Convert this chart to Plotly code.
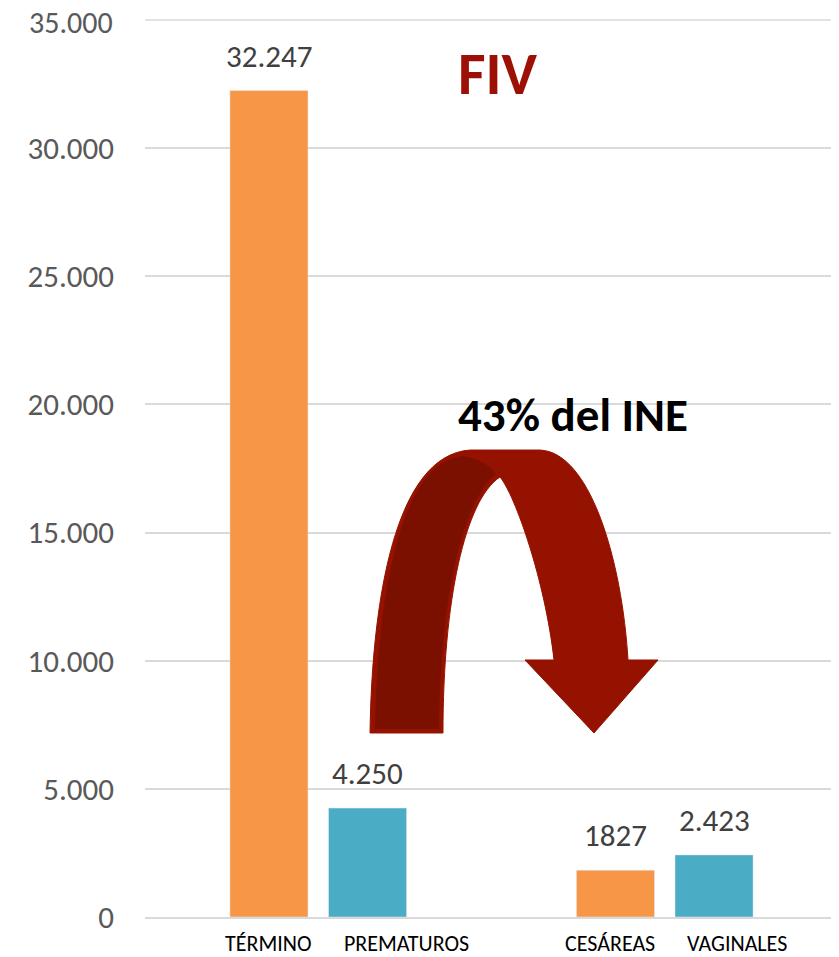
import plotly.graph_objects as go

# datos
grupos = ['Nacimientos', 'Partos']
etiquetas = ['TÉRMINO', 'PREMATUROS', 'CESÁREAS', 'VAGINALES']
serie_naranja = [32247, 1827]       # TÉRMINO, CESÁREAS
serie_azul = [4250, 2423]           # PREMATUROS, VAGINALES
texto_naranja = ['32.247', '1827']
texto_azul = ['4.250', '2.423']
ticks_y = [0, 5000, 10000, 15000, 20000, 25000, 30000, 35000]

FUENTE = 'Carlito, Calibri, Lato, sans-serif'
OFF = 8                      # margen del body de la página
W, H = 839 - OFF, 957 - OFF
L, R, T, B = 145 - OFF, 1, 19 - OFF, 40


def px(x, y):
    """pixel de la página -> coordenadas paper"""
    x, y = x - OFF, y - OFF
    return (x - L) / (W - L - R), (H - B - y) / (H - T - B)


def ruta(cmds):
    partes = []
    for c in cmds:
        op, pts = c[0], c[1:]
        s = op
        for (x, y) in pts:
            a, b = px(x, y)
            s += f' {a:.4f},{b:.4f}'
        partes.append(s)
    return ' '.join(partes) + ' Z'


fig = go.Figure()
fig.add_trace(go.Bar(x=grupos, y=serie_naranja, marker_color='#F79646'))
fig.add_trace(go.Bar(x=grupos, y=serie_azul, marker_color='#4BACC6'))

# etiquetas de datos
for serie, textos, dx in [(serie_naranja, texto_naranja, -49.25), (serie_azul, texto_azul, 49.25)]:
    for g, v, t in zip(grupos, serie, textos):
        fig.add_annotation(x=g, y=v, xref='x', yref='y', text=t, showarrow=False,
                           xshift=dx, yshift=14, yanchor='bottom',
                           font=dict(size=31, color='#404040', family=FUENTE))

# línea y etiqueta superiores del eje y (plotly no las dibuja en el borde)
tope = ticks_y[-1]
fig.add_shape(type='line', xref='paper', yref='y', x0=0, x1=1, y0=tope, y1=tope,
              line=dict(color='#d9d9d9', width=1.5), layer='below')
fig.add_annotation(x=0, y=tope, xref='paper', yref='y', text=f'{tope:,}'.replace(',', '.'),
                   showarrow=False, xanchor='right', yanchor='middle', xshift=-30, yshift=-2,
                   font=dict(size=30, color='#595959', family=FUENTE))

# flecha curva
flecha = ruta([
    ('M', (370, 733)),
    ('C', (372, 600), (395, 455), (470, 450)),
    ('L', (540, 450)),
    ('C', (590, 452), (622, 560), (628, 660)),
    ('L', (658, 660)),
    ('L', (594, 733)),
    ('L', (525, 660)),
    ('L', (554, 660)),
    ('C', (545, 580), (515, 495), (500, 477)),
    ('C', (465, 500), (443, 600), (443, 733)),
])
sombra = ruta([
    ('M', (374, 730)),
    ('C', (376, 600), (398, 462), (462, 455)),
    ('Q', (486, 458), (497, 474)),
    ('C', (463, 502), (441, 600), (440, 730)),
])
fig.add_shape(type='path', path=flecha, xref='paper', yref='paper',
              fillcolor='#961200', line=dict(color='#961200', width=1))
fig.add_shape(type='path', path=sombra, xref='paper', yref='paper',
              fillcolor='#7B1000', line=dict(color='#961200', width=2))

# etiquetas del eje x
desplazamientos = [-50, 88, -55, 72]
for i, et in enumerate(etiquetas):
    fig.add_annotation(x=grupos[i // 2], y=0, xref='x', yref='y', text=et,
                       showarrow=False, xshift=desplazamientos[i], yshift=-26,
                       yanchor='middle',
                       font=dict(size=22, color='#000000', family=FUENTE))

fx, fy = px(498, 73)
fig.add_annotation(x=fx, y=fy, xref='paper', yref='paper', text='<b>FIV</b>',
                   showarrow=False, xanchor='center', yanchor='middle',
                   font=dict(size=60, color='#9C1006', family=FUENTE))
ix, iy = px(573, 415)
fig.add_annotation(x=ix, y=iy, xref='paper', yref='paper', text='<b>43% del INE</b>',
                   showarrow=False, xanchor='center', yanchor='middle',
                   font=dict(size=47, color='#000000', family=FUENTE))

fig.update_layout(
    width=W, height=H,
    margin=dict(l=L, r=R, t=T, b=B),
    plot_bgcolor='white', paper_bgcolor='white',
    barmode='group', bargap=0.431, bargroupgap=0.208,
    separators=',.',
    showlegend=False,
    xaxis=dict(showticklabels=False, showline=True, linecolor='#d9d9d9', linewidth=2,
               showgrid=False),
    yaxis=dict(range=[0, 35039], tickvals=ticks_y[:-1], tickformat=',d',
               showgrid=True, gridcolor='#d9d9d9', gridwidth=1.5, zeroline=False,
               ticklabelstandoff=30,
               tickfont=dict(size=31, color='#595959', family=FUENTE)),
)

fig.write_html("out.html")
